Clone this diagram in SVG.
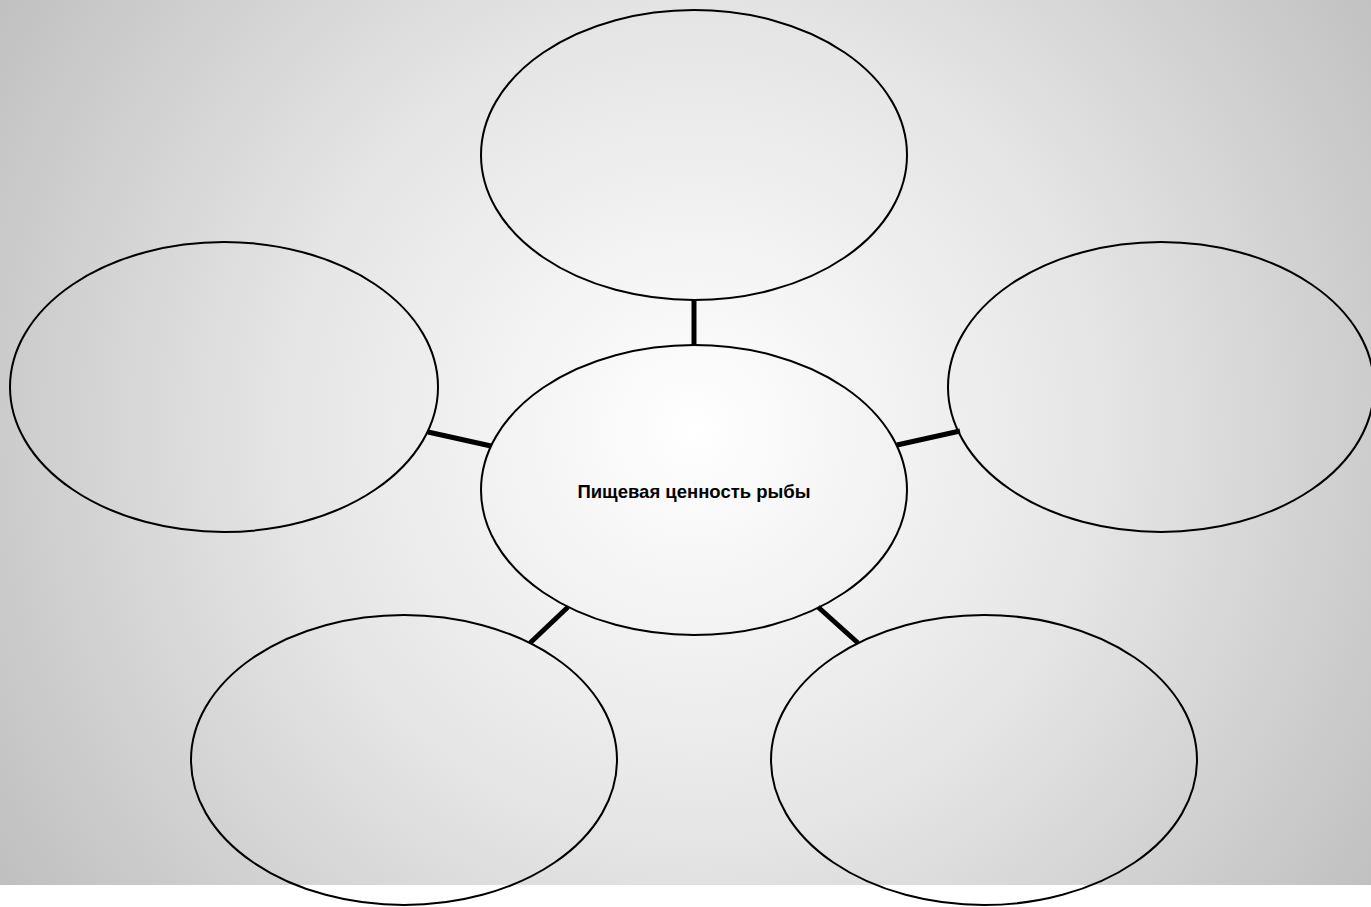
<svg xmlns="http://www.w3.org/2000/svg" width="1371" height="907" viewBox="0 0 1371 907">
<defs>
<radialGradient id="bg" gradientUnits="userSpaceOnUse" cx="694" cy="430" r="820">
<stop offset="0" stop-color="#ffffff"/>
<stop offset="0.5" stop-color="#e5e5e5"/>
<stop offset="1" stop-color="#c0c0c0"/>
</radialGradient>
<style>
.node{fill:none;stroke:#000;stroke-width:2}
.conn{stroke:#000;stroke-width:5;fill:none}
.lbl{font-family:"Liberation Sans",Arial,sans-serif;font-weight:bold;font-size:18.5px;fill:#000;text-anchor:middle}
</style>
</defs>
<rect x="0" y="0" width="1371" height="907" fill="#ffffff"/>
<rect x="0" y="0" width="1371" height="885" fill="url(#bg)"/>
<g id="connectors">
<line class="conn" x1="694" y1="300" x2="694" y2="345"/>
<line class="conn" x1="428" y1="432" x2="491" y2="446"/>
<line class="conn" x1="897" y1="445" x2="960" y2="431"/>
<line class="conn" x1="568" y1="607" x2="530" y2="643"/>
<line class="conn" x1="818" y1="607" x2="858" y2="643"/>
</g>
<g id="top"><ellipse class="node" cx="694" cy="155" rx="213" ry="145"/></g>
<g id="left"><ellipse class="node" cx="224" cy="387" rx="214" ry="145"/></g>
<g id="right"><ellipse class="node" cx="1161" cy="387" rx="213" ry="145"/></g>
<g id="center"><ellipse class="node" cx="694" cy="490" rx="213" ry="145"/>
<text class="lbl" x="694" y="498">Пищевая ценность рыбы</text></g>
<g id="bottom-left"><ellipse class="node" cx="404" cy="760" rx="213" ry="145"/></g>
<g id="bottom-right"><ellipse class="node" cx="984" cy="760" rx="213" ry="145"/></g>
</svg>
